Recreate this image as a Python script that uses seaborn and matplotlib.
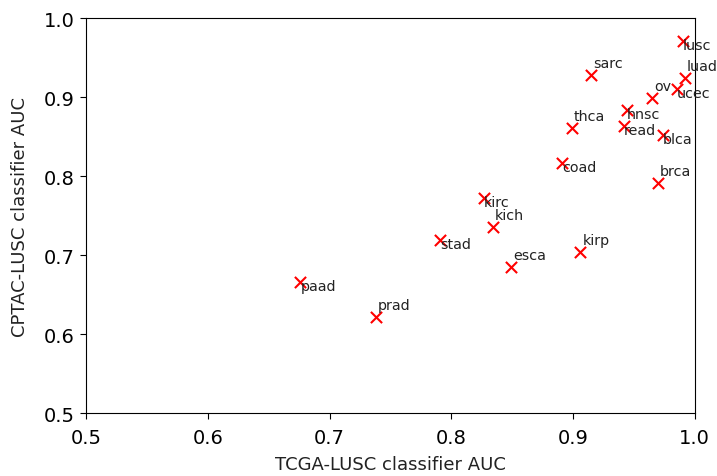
import matplotlib
matplotlib.use("Agg")
import matplotlib.pyplot as plt
import seaborn as sns
import pandas as pd

# Classifier AUC per cancer type, trained on TCGA-LUSC and evaluated on CPTAC-LUSC
cancer_types = ["lusc", "luad", "ucec", "ov", "sarc", "hnsc", "read", "blca", "thca",
                "coad", "brca", "kirc", "kich", "stad", "esca", "kirp", "paad", "prad"]
tcga_auc = [0.990, 0.992, 0.985, 0.965, 0.915, 0.944, 0.942, 0.974, 0.899,
            0.891, 0.970, 0.827, 0.834, 0.791, 0.849, 0.906, 0.676, 0.738]
cptac_auc = [0.971, 0.924, 0.910, 0.899, 0.928, 0.884, 0.863, 0.852, 0.861,
             0.816, 0.791, 0.772, 0.735, 0.719, 0.685, 0.704, 0.666, 0.622]

# Labels that sit above their marker; the rest are placed just below
labels_above = {"luad", "ov", "sarc", "thca", "brca", "kich", "esca", "kirp", "prad"}

df = pd.DataFrame({"type": cancer_types, "tcga": tcga_auc, "cptac": cptac_auc})

plt.rcParams["font.family"] = ["DejaVu Sans"]
fig = plt.figure(figsize=(7.17, 4.77), dpi=100)
ax = fig.add_axes([0.12, 0.132, 0.849, 0.828])

sns.scatterplot(data=df, x="tcga", y="cptac", marker="x", color="red",
                s=65, linewidth=1.5, ax=ax, legend=False)

for name, x, y in zip(df["type"], df["tcga"], df["cptac"]):
    off = (2, 8) if name in labels_above else (0, -8)
    ax.annotate(name, (x, y), xytext=off, textcoords="offset pixels",
                ha="left", va="baseline", fontsize=10.3, color="#222222")

ax.set_xlim(0.5, 1.0)
ax.set_ylim(0.5, 1.0)
ax.set_xticks([0.5, 0.6, 0.7, 0.8, 0.9, 1.0])
ax.set_yticks([0.5, 0.6, 0.7, 0.8, 0.9, 1.0])
ax.tick_params(labelsize=14, length=4.5)
ax.tick_params(axis="x", pad=6)
ax.set_xlabel("TCGA-LUSC classifier AUC", fontsize=13, color="#222222", labelpad=6)
ax.set_ylabel("CPTAC-LUSC classifier AUC", fontsize=13, color="#222222", labelpad=11)

fig.savefig("out.png", dpi=100)
